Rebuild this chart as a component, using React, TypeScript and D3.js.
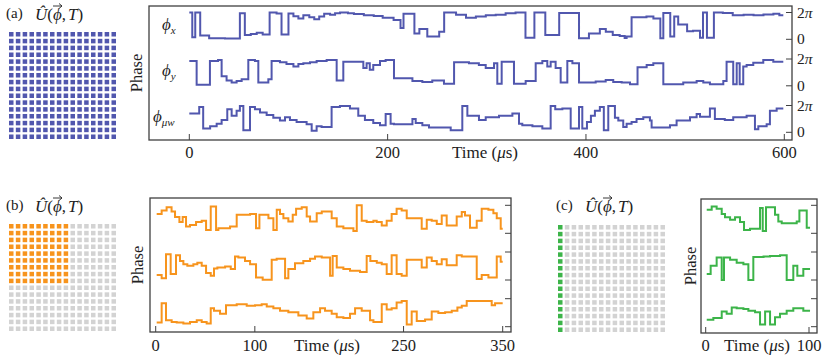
import React from "react";
import * as d3 from "d3";

// phase values are in units of 2π, each pair is [time (μs), phase] at a step change
const aTicks = [0, 200, 400, 600];
const bTicks = [0, 100, 250, 350];
const cTicks = [0, 100];

const aPhiX: [number, number][] = [
  [0, 1.0], [3, 0.08], [6, 1.0], [11, 0.14], [20, 0.04], [36, 0.03], [51, 0.97], [56, 0.16], [62, 0.2],
  [68, 0.24], [74, 0.18], [81, 1.0], [88, 0.96], [93, 0.18], [100, 0.96], [105, 0.86], [110, 0.78],
  [115, 0.9], [121, 0.82], [126, 0.75], [131, 0.85], [136, 0.95], [142, 0.92], [147, 0.97], [152, 1.0],
  [160, 0.97], [166, 0.94], [176, 0.9], [186, 0.87], [195, 0.8], [206, 0.72], [213, 0.42], [216, 0.95],
  [227, 0.22], [232, 0.38], [240, 0.1], [252, 0.28], [257, 1.0], [269, 0.92], [279, 0.8], [289, 0.85],
  [299, 0.9], [309, 0.92], [319, 0.97], [329, 1.0], [339, 0.06], [348, 1.0], [359, 0.16], [373, 0.98],
  [393, 0.04], [403, 0.22], [414, 0.38], [420, 0.28], [427, 0.16], [434, 0.12], [439, 0.05], [441, 0.1],
  [446, 0.82], [461, 0.85], [468, 0.78], [475, 0.04], [478, 0.98], [485, 0.1], [489, 0.85], [493, 0.55],
  [502, 0.3], [508, 0.32], [515, 0.06], [518, 1.0], [522, 0.06], [529, 1.0], [538, 0.98], [548, 0.9],
  [559, 0.92], [569, 0.9], [579, 0.93], [589, 0.95], [595, 0.9],
];
const aPhiY: [number, number][] = [
  [0, 0.93], [7.4, 0.04], [20.8, 0.93], [29, 0.96], [32.6, 0.36], [37.6, 0.2], [42.7, 0.12], [47.7, 0.18],
  [52.8, 0.24], [59.5, 0.96], [66.2, 0.93], [69.6, 0.12], [79.7, 0.24], [83, 0.93], [91.4, 0.88], [98, 0.81],
  [105, 0.72], [110, 0.81], [115, 0.84], [121.7, 0.88], [128.4, 0.93], [138.5, 0.96], [148.6, 0.2],
  [155.3, 0.9], [175.5, 0.66], [178.8, 0.84], [182, 0.6], [185.5, 0.78], [192.3, 0.93], [198, 0.96],
  [206.4, 0.28], [225, 0.18], [235, 0.14], [245, 0.2], [256.8, 0.08], [267, 0.88], [282, 0.84], [292, 0.78],
  [298.9, 0.66], [307.3, 0.84], [310.6, 0.08], [315, 0.9], [327.4, 0.08], [339.2, 0.18], [349.3, 0.84],
  [356, 0.93], [361, 0.72], [364.4, 0.9], [369.4, 0.66], [374.5, 0.12], [381.2, 0.93], [386.3, 0.84],
  [393, 0.12], [409.8, 0.16], [419.9, 0.22], [427.5, 0.14], [436, 0.12], [444.4, 0.06], [452, 0.69],
  [461.2, 0.78], [467.9, 0.84], [478, 0.06], [498.1, 0.12], [511.6, 0.18], [518.3, 0.12], [525, 0.06],
  [538.5, 0.18], [541.8, 0.9], [548.5, 0.06], [552, 0.84], [555, 0.06], [558.6, 0.72], [562, 0.78],
  [568.7, 0.86], [578.8, 0.96], [588.9, 0.9],
];
const aPhiMw: [number, number][] = [
  [0, 0.7], [10, 0.94], [14, 0.14], [21, 0.23], [27.6, 0.32], [32.6, 0.46], [38.3, 0.86], [42.7, 0.62],
  [47.7, 0.8], [51, 0.98], [54.5, 0.08], [61.2, 0.94], [66.2, 0.86], [71.3, 0.74], [78, 0.65], [84.7, 0.54],
  [91.4, 0.44], [96.5, 0.56], [101.5, 0.46], [108.2, 0.38], [118.3, 0.3], [123.4, 0.06], [128.4, 0.23],
  [133.4, 0.2], [143.5, 0.94], [151.9, 0.98], [162, 0.89], [170.4, 0.62], [177.1, 0.46], [185.5, 0.35],
  [192.3, 0.26], [198, 0.68], [203, 0.32], [206.4, 0.3], [225, 0.5], [228.3, 0.35], [235, 0.26],
  [241.7, 0.18], [263.6, 0.08], [275.3, 0.98], [280.4, 0.62], [292.1, 0.46], [298.9, 0.56], [312.3, 0.62],
  [325.8, 0.7], [332.5, 0.32], [335.8, 0.26], [346, 0.23], [356, 0.14], [364.4, 0.98], [369, 0.86],
  [376.2, 0.89], [384.6, 0.14], [393, 0.94], [396.3, 0.14], [401, 0.38], [405, 0.62], [409, 0.8],
  [414, 0.94], [418, 0.08], [422.5, 0.98], [429.2, 0.54], [432.6, 0.44], [437.6, 0.2], [441, 0.32],
  [446, 0.38], [451, 0.5], [457.8, 0.56], [464.5, 0.44], [466.2, 0.18], [484.7, 0.26], [491.4, 0.44],
  [504.9, 0.56], [511.6, 0.68], [515, 0.58], [525, 0.89], [530, 0.5], [540, 0.46], [548.5, 0.56],
  [562, 0.62], [570.4, 0.11], [573.8, 0.23], [582.2, 0.3], [585.5, 0.8], [592.3, 0.89],
];

const bPhi1: [number, number][] = [
  [1, 0.69], [6, 0.81], [11, 0.93], [16, 0.78], [19.5, 0.58], [23.9, 0.4], [27.2, 0.58], [30.6, 0.24],
  [34.6, 0.3], [40.7, 0.4], [46.4, 0.45], [50.8, 0.12], [55.5, 0.96], [60.9, 0.12], [63.2, 0.18], [75, 0.24],
  [81.7, 0.66], [95.2, 0.69], [101.2, 0.18], [104.6, 0.66], [113.7, 0.54], [118.7, 0.12], [122.1, 0.84],
  [125.4, 0.69], [128.8, 0.54], [133.8, 0.42], [138.2, 0.66], [141.6, 0.88], [147.3, 0.93], [152.3, 0.6],
  [155.7, 0.42], [162.4, 0.72], [167.5, 0.78], [177.5, 0.54], [182.6, 0.24], [189.3, 0.18], [199.4, 0.08],
  [202.8, 1.0], [207.8, 0.45], [212.8, 0.4], [219.6, 0.45], [222.9, 0.4], [228, 0.28], [233, 0.45],
  [238, 0.69], [243, 0.88], [248.1, 0.81], [253.2, 0.54], [268.3, 0.16], [273.4, 0.48], [278.4, 0.45],
  [283.5, 0.33], [288.5, 0.64], [293.5, 0.28], [303.6, 0.6], [308.7, 0.76], [312, 0.64], [317, 0.2],
  [323.8, 0.45], [328.8, 0.88], [335.6, 0.84], [340.6, 0.72], [344, 0.54], [348, 0.16],
];
const bPhi2: [number, number][] = [
  [1, 0.18], [6, 0.06], [10.4, 0.92], [15.1, 0.21], [20.5, 0.88], [24.5, 0.68], [27.9, 0.56], [31.9, 0.51],
  [38, 0.56], [42, 0.62], [46.4, 0.51], [50.8, 0.25], [55.5, 0.15], [58.8, 0.41], [62.2, 0.45], [70, 0.48],
  [75.7, 0.39], [80, 0.84], [83.4, 0.8], [90.1, 0.68], [95.2, 0.56], [101.2, 0.09], [107.9, 0.01],
  [117, 0.72], [122, 0.76], [130.5, 0.06], [133.8, 0.39], [140.5, 0.6], [148.9, 0.68], [155.7, 0.76],
  [160.7, 0.84], [167.5, 0.8], [175.9, 0.15], [178.5, 0.86], [182.6, 0.45], [189.3, 0.39], [196, 0.33],
  [206.1, 0.29], [212.8, 0.86], [216.5, 0.68], [223, 0.62], [228, 0.56], [233, 0.21], [238, 0.88],
  [243, 0.21], [248.1, 0.15], [253.2, 0.72], [268.3, 0.45], [273.4, 0.8], [278.4, 0.68], [283.5, 0.56],
  [288.5, 0.74], [293.5, 0.53], [303.6, 0.88], [308.7, 0.84], [323.8, 0.04], [328.8, 0.18], [335.6, 0.09],
  [344, 0.84], [348, 0.65],
];
const bPhi3: [number, number][] = [
  [1, 0.15], [6, 0.84], [10.4, 0.23], [16.1, 0.17], [21.2, 0.15], [27.9, 0.11], [34.6, 0.17], [41.4, 0.23],
  [46.4, 0.17], [51.4, 0.11], [55.5, 0.66], [58.8, 0.57], [64.9, 0.46], [70.9, 0.77], [81.7, 0.8],
  [91.8, 0.75], [100.2, 0.77], [106.9, 0.8], [112, 0.72], [118.7, 0.66], [125.4, 0.57], [133.8, 0.52],
  [143.9, 0.4], [152.3, 0.29], [159, 0.52], [165.8, 0.66], [170.8, 0.57], [177.5, 0.46], [182.6, 0.34],
  [189.3, 0.31], [196, 0.46], [201.1, 0.66], [207.8, 0.57], [216.2, 0.23], [219.6, 0.17], [228, 0.8],
  [233, 0.61], [238, 0.66], [243, 0.86], [248.1, 0.92], [253.2, 0.08], [258.2, 0.54], [263.3, 0.2],
  [271.7, 0.26], [278.4, 0.54], [285.1, 0.49], [291.9, 0.52], [298.6, 0.57], [304.3, 0.69], [308.7, 0.75],
  [313.7, 0.92], [338.9, 0.77], [342.3, 0.84],
];

const cPhi1: [number, number][] = [
  [1, 0.84], [5.8, 0.96], [10.6, 0.88], [15.5, 0.69], [18.7, 0.57], [23.6, 0.48], [28.4, 0.57], [33.2, 0.4],
  [37.1, 0.12], [42.9, 0.16], [52.6, 0.9], [55.2, 0.08], [58.4, 0.93], [67.1, 0.66], [70.3, 0.42],
  [73.6, 0.36], [88.1, 0.42], [90.7, 0.81], [97.8, 0.2],
];
const cPhi2: [number, number][] = [
  [1, 0.21], [4.8, 0.51], [10.6, 0.8], [15.5, 0.0], [17.7, 0.8], [23.6, 0.72], [30, 0.62], [36.5, 0.56],
  [41.3, 0.0], [46.1, 0.82], [56, 0.84], [62.3, 0.86], [72, 0.88], [78.4, 0.0], [84.8, 0.51], [88.7, 0.15],
  [94.5, 0.39],
];
const cPhi3: [number, number][] = [
  [1, 0.25], [7.4, 0.31], [15.5, 0.54], [20.3, 0.46], [25.2, 0.69], [30, 0.66], [36.5, 0.63], [41.3, 0.57],
  [47.8, 0.52], [52.6, 0.08], [57.5, 0.54], [62.3, 0.08], [67.1, 0.34], [71.9, 0.46], [78.4, 0.57],
  [84.8, 0.66], [94.5, 0.57],
];

const BLUE = "#5157ae";
const ORANGE = "#f7941d";
const GREEN = "#3cb449";
const GREY = "#d3d3d3";
const AXIS = "#404040";
const FONT = "'Liberation Serif', 'DejaVu Serif', serif";

type Series = [number, number][];

const Grid = ({ x0, y0, on }: { x0: number; y0: number; on: (r: number, c: number) => string }) => {
  const idx = d3.range(16);
  const pos = d3.scaleBand<number>().domain(idx).range([0, 107]).paddingInner(0.34);
  return (
    <g transform={`translate(${x0},${y0})`}>
      {idx.map((r) =>
        idx.map((c) => (
          <rect key={`${r}-${c}`} x={pos(c)} y={pos(r)} width={pos.bandwidth()} height={pos.bandwidth()} fill={on(r, c)} />
        ))
      )}
    </g>
  );
};

const ULabel = ({ x, y, tag }: { x: number; y: number; tag: string }) => (
  <g fontFamily={FONT} fill="#222">
    <text x={x} y={y} fontSize={15}>{tag}</text>
    <text x={x + 29} y={y + 2} fontSize={17}>
      <tspan fontStyle="italic">Û</tspan>
      <tspan>(</tspan>
      <tspan fontStyle="italic">ϕ</tspan>
      <tspan>,</tspan>
      <tspan fontStyle="italic" dx={2}>T</tspan>
      <tspan>)</tspan>
    </text>
    {/* vector arrow over phi */}
    <path
      d={`M${x + 47},${y - 12} h9 m-3,-2.5 l3,2.5 l-3,2.5`}
      fill="none"
      stroke="#222"
      strokeWidth={0.9}
    />
  </g>
);

const TimeLabel = ({ x, y }: { x: number; y: number }) => (
  <text x={x} y={y} textAnchor="middle" fontFamily={FONT} fontSize={17} fill="#222">
    Time (<tspan fontStyle="italic">μ</tspan>s)
  </text>
);

type PanelProps = {
  box: { l: number; r: number; t: number; b: number };
  domain: [number, number];
  range: [number, number];
  ticks: number[];
  rows: Series[];
  tEnd: number;
  base0: number;
  pitch: number;
  span: number;
  color: string;
  rightLabels?: boolean;
  phaseX: number;
  timeX: number;
  tickY: number;
};

const StepPanel = (p: PanelProps) => {
  const x = d3.scaleLinear().domain(p.domain).range(p.range);
  const { l, r, t, b } = p.box;
  return (
    <g fontFamily={FONT} fill="#222">
      {p.rows.map((data, i) => {
        const base = p.base0 + i * p.pitch;
        const y = d3.scaleLinear().domain([0, 1]).range([base, base - p.span]);
        const line = d3
          .line<[number, number]>()
          .x((d) => x(d[0]))
          .y((d) => y(d[1]))
          .curve(d3.curveStepAfter);
        const pts: Series = [...data, [p.tEnd, data[data.length - 1][1]]];
        return (
          <g key={i}>
            <path d={line(pts) || ""} fill="none" stroke={p.color} strokeWidth={2} strokeLinejoin="miter" />
            {[0, 1].map((v) => (
              <g key={v}>
                <line x1={r - 6} x2={r} y1={y(v)} y2={y(v)} stroke={AXIS} strokeWidth={1} />
                {p.rightLabels && (
                  <text x={r + 5} y={y(v) + 5} fontSize={15.5}>
                    {v === 1 ? (
                      <>
                        2<tspan fontStyle="italic">π</tspan>
                      </>
                    ) : (
                      "0"
                    )}
                  </text>
                )}
              </g>
            ))}
          </g>
        );
      })}
      {p.ticks.map((tk) => (
        <g key={tk}>
          <line x1={x(tk)} x2={x(tk)} y1={b - 6} y2={b} stroke={AXIS} strokeWidth={1} />
          <text x={x(tk)} y={p.tickY} textAnchor="middle" fontSize={16.5}>
            {tk}
          </text>
        </g>
      ))}
      <rect x={l} y={t} width={r - l} height={b - t} fill="none" stroke={AXIS} strokeWidth={1.3} />
      <text
        transform={`translate(${p.phaseX},${(t + b) / 2}) rotate(-90)`}
        textAnchor="middle"
        fontSize={16.5}
      >
        Phase
      </text>
      <TimeLabel x={p.timeX} y={p.tickY} />
    </g>
  );
};

const PhiLabel = ({ x, y, sub }: { x: number; y: number; sub: string }) => (
  <text x={x} y={y} fontFamily={FONT} fontSize={17} fill="#222" fontStyle="italic">
    ϕ
    <tspan fontSize={11} dy={4}>
      {sub}
    </tspan>
  </text>
);

export default function App() {
  return (
    <svg
      width={830}
      height={359}
      style={{ position: "absolute", left: 0, top: 0, background: "#fff" }}
    >
      {/* (a) */}
      <ULabel x={6} y={18} tag="(a)" />
      <Grid x0={9} y0={32} on={() => BLUE} />
      <StepPanel
        box={{ l: 149, r: 792, t: 6, b: 140 }}
        domain={[0, 600]}
        range={[189.3, 784.3]}
        ticks={aTicks}
        rows={[aPhiX, aPhiY, aPhiMw]}
        tEnd={599}
        base0={39.3}
        pitch={46.5}
        span={26.8}
        color={BLUE}
        rightLabels
        phaseX={142}
        timeX={485}
        tickY={158}
      />
      <PhiLabel x={162} y={30} sub="x" />
      <PhiLabel x={162} y={76} sub="y" />
      <PhiLabel x={153} y={122} sub="μw" />

      {/* (b) */}
      <ULabel x={6} y={210} tag="(b)" />
      <Grid x0={9} y0={224} on={(r, c) => (r < 9 && c < 9 ? ORANGE : GREY)} />
      <StepPanel
        box={{ l: 150, r: 511, t: 198, b: 332 }}
        domain={[0, 350]}
        range={[155.7, 502.7]}
        ticks={bTicks}
        rows={[bPhi1, bPhi2, bPhi3]}
        tEnd={350}
        base0={233.3}
        pitch={46.7}
        span={28}
        color={ORANGE}
        phaseX={143}
        timeX={327}
        tickY={351}
      />

      {/* (c) */}
      <ULabel x={556} y={210} tag="(c)" />
      <Grid x0={558} y0={225} on={(r, c) => (c === 0 ? GREEN : GREY)} />
      <StepPanel
        box={{ l: 701, r: 817, t: 199, b: 333 }}
        domain={[0, 100]}
        range={[705.7, 809]}
        ticks={cTicks}
        rows={[cPhi1, cPhi2, cPhi3]}
        tEnd={101}
        base0={233.3}
        pitch={46.7}
        span={28}
        color={GREEN}
        phaseX={696}
        timeX={757}
        tickY={351}
      />
    </svg>
  );
}
